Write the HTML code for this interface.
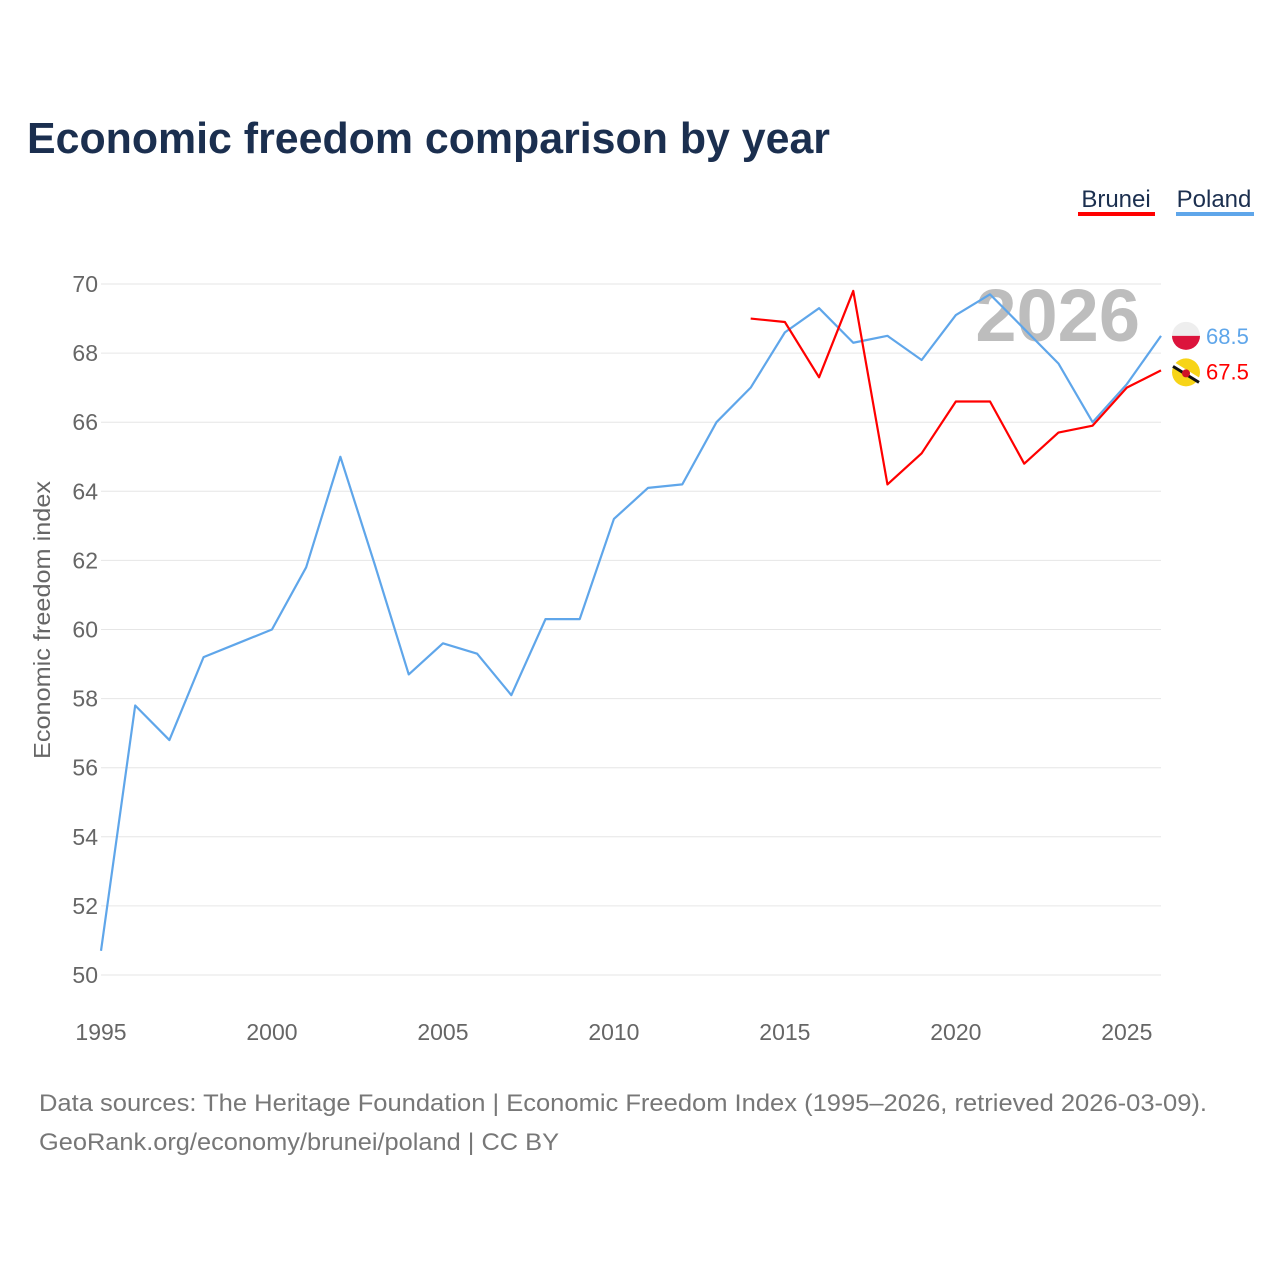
<!DOCTYPE html>
<html><head><meta charset="utf-8">
<style>
html,body{margin:0;padding:0;background:#fff;width:1280px;height:1280px;overflow:hidden;font-family:"Liberation Sans",sans-serif;}
</style></head>
<body>
<svg id="chart" width="1280" height="1280" xmlns="http://www.w3.org/2000/svg" font-family="Liberation Sans, sans-serif">
<text x="27" y="153" font-size="44" font-weight="bold" fill="#1b2f4f" textLength="803" lengthAdjust="spacingAndGlyphs">Economic freedom comparison by year</text>
<g>
<text x="1116" y="207" font-size="24" fill="#1b2f4f" text-anchor="middle">Brunei</text>
<rect x="1078" y="212" width="77" height="4" fill="#ff0000"/>
</g>
<g>
<text x="1214" y="207" font-size="24" fill="#1b2f4f" text-anchor="middle">Poland</text>
<rect x="1176" y="212" width="78" height="4" fill="#5fa6ea"/>
</g>
<text x="1140" y="341" font-size="74" font-weight="bold" fill="#bdbdbd" text-anchor="end">2026</text>
<g id="grid"></g>
<g id="yticks"></g>
<g id="xticks"></g>
<text transform="translate(50,620) rotate(-90)" font-size="23" fill="#666" text-anchor="middle" textLength="278" lengthAdjust="spacingAndGlyphs">Economic freedom index</text>
<g id="series"></g>
<g id="ends"></g>
<text x="39" y="1111" font-size="24" fill="#777" textLength="1168" lengthAdjust="spacingAndGlyphs">Data sources: The Heritage Foundation | Economic Freedom Index (1995–2026, retrieved 2026-03-09).</text>
<text x="39" y="1150" font-size="24" fill="#777" textLength="520" lengthAdjust="spacingAndGlyphs">GeoRank.org/economy/brunei/poland | CC BY</text>
</svg>
<script>
const polandYears = [1995,1996,1997,1998,1999,2000,2001,2002,2003,2004,2005,2006,2007,2008,2009,2010,2011,2012,2013,2014,2015,2016,2017,2018,2019,2020,2021,2022,2023,2024,2025,2026];
const polandValues = [50.7,57.8,56.8,59.2,59.6,60.0,61.8,65.0,61.9,58.7,59.6,59.3,58.1,60.3,60.3,63.2,64.1,64.2,66.0,67.0,68.6,69.3,68.3,68.5,67.8,69.1,69.7,68.7,67.7,66.0,67.1,68.5];
const bruneiYears = [2014,2015,2016,2017,2018,2019,2020,2021,2022,2023,2024,2025,2026];
const bruneiValues = [69.0,68.9,67.3,69.8,64.2,65.1,66.6,66.6,64.8,65.7,65.9,67.0,67.5];
const yTicks = [50,52,54,56,58,60,62,64,66,68,70];
const xTicks = [1995,2000,2005,2010,2015,2020,2025];

const NS="http://www.w3.org/2000/svg";
const xS = y => 101 + (y-1995)*(1161-101)/31;
const yS = v => 975 - (v-50)*(975-284)/20;
function mk(tag, attrs, parent){const e=document.createElementNS(NS,tag);for(const k in attrs)e.setAttribute(k,attrs[k]);parent.appendChild(e);return e;}
const grid=document.getElementById('grid'), yt=document.getElementById('yticks'), xt=document.getElementById('xticks');
yTicks.forEach(v=>{
  const l=mk('line',{x1:101,x2:1161,y1:yS(v),y2:yS(v),stroke:'#e6e6e6','stroke-width':1},grid);
  
  
  const t=mk('text',{x:98,y:yS(v)+8,'font-size':23,fill:'#666','text-anchor':'end'},yt);
  t.textContent=v;
  
  
});
xTicks.forEach(y=>{
  const t=mk('text',{x:xS(y),y:1040,'font-size':23,fill:'#666','text-anchor':'middle'},xt);
  t.textContent=y;
  
  
});
const ser=document.getElementById('series');
function line(years, vals, color, name){
  const p=mk('polyline',{points:years.map((y,i)=>xS(y)+','+yS(vals[i])).join(' '),fill:'none',stroke:color,'stroke-width':2.2,'stroke-linejoin':'round'},ser);
  
  
}
line(polandYears,polandValues,'#5fa6ea','poland-line');
line(bruneiYears,bruneiValues,'#ff0000','brunei-line');
const ends=document.getElementById('ends');
const pv=polandValues[polandValues.length-1], bv=bruneiValues[bruneiValues.length-1];
let g=mk('g',{},ends);


const cy1=yS(pv);
mk('circle',{cx:1186,cy:cy1,r:14,fill:'#eee'},g);
mk('path',{d:`M1172 ${cy1} A14 14 0 0 0 1200 ${cy1} Z`,fill:'#dc143c'},g);
let t=mk('text',{x:1206,y:cy1+8,'font-size':22,fill:'#5fa6ea'},ends);
t.textContent=pv.toFixed(1);


const cy2=yS(bv)+2;
g=mk('g',{},ends);


mk('circle',{cx:1186,cy:cy2,r:14,fill:'#f7d417'},g);
mk('line',{x1:1173,y1:cy2-8,x2:1199,y2:cy2+8,stroke:'#fff','stroke-width':5},g);
mk('line',{x1:1173,y1:cy2-6,x2:1199,y2:cy2+10,stroke:'#111','stroke-width':3},g);
mk('circle',{cx:1186,cy:cy2+1,r:4,fill:'#cf1126'},g);
t=mk('text',{x:1206,y:cy2+7,'font-size':22,fill:'#ff0000'},ends);
t.textContent=bv.toFixed(1);


</script>
</body></html>
